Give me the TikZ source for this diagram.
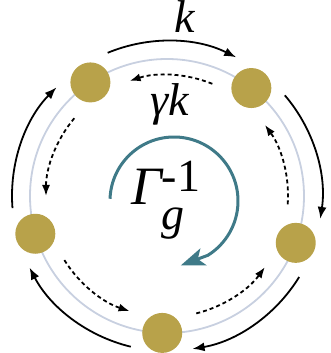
\documentclass[tikz,border=0pt]{standalone}
\usepackage{fontspec}
\setmainfont{Liberation Serif}
\usetikzlibrary{arrows.meta}
\definecolor{bead}{HTML}{B8A24A}
\definecolor{ring}{HTML}{C8D0E0}
\definecolor{teal2}{HTML}{3F7A88}
\tikzset{
  beadnode/.style={circle,fill=bead,minimum size=40pt,inner sep=0pt},
  outerarr/.style={line width=1.8pt,-{Latex[length=12pt,width=9pt]}},
  innerarr/.style={line width=1.8pt,dash pattern=on 4pt off 3pt,-{Latex[length=11pt,width=8pt]}},
  lbl/.style={font=\fontsize{46}{46}\selectfont\itshape,inner sep=0pt,text height=31pt,text depth=1pt}
}
\begin{document}
\begin{tikzpicture}[x=1pt,y=1pt]
\useasboundingbox (0,0) rectangle (330,353);
\coordinate (c) at (167,157);
\draw[ring,line width=1.8pt] (c) circle[radius=137];
% outer solid arrows (clockwise)
\foreach \m in {88,160,232,304,16}{
  \draw[outerarr] ([shift={(\m+24.5:155)}]c) arc[start angle=\m+24.5,end angle=\m-24.5,radius=155];
}
% inner dashed arrows (counterclockwise)
\foreach \m in {88,160,232,304,16}{
  \draw[innerarr] ([shift={(\m-20:121)}]c) arc[start angle=\m-20,end angle=\m+20,radius=121];
}
\node[beadnode] (b1) at ([shift={(52:137)}]c) {};
\node[beadnode] (b2) at ([shift={(124:137)}]c) {};
\node[beadnode] (b3) at ([shift={(196:137)}]c) {};
\node[beadnode] (b4) at ([shift={(268:137)}]c) {};
\node[beadnode] (b5) at ([shift={(340:137)}]c) {};
% teal circular arrow
\coordinate (t) at (174,152);
\draw[teal2,line width=3pt,-{Stealth[length=24pt,width=18pt,inset=6pt]}] ([shift={(178:64)}]t) arc[start angle=178,end angle=-58,radius=64] -- ++(-27,-10);
% labels
\node[lbl,anchor=base] (k) at (185,320) {k};
\node[lbl,anchor=base] (gk) at (170,237) {γk};
\node[anchor=base west,inner sep=0pt,font=\fontsize{54}{54}\selectfont\itshape] (G) at (131,148)
  {Γ\rlap{\fontsize{46}{46}\selectfont\upshape\raisebox{13pt}{-1}}\raisebox{-25pt}{\fontsize{46}{46}\selectfont g}};
\end{tikzpicture}
\end{document}
